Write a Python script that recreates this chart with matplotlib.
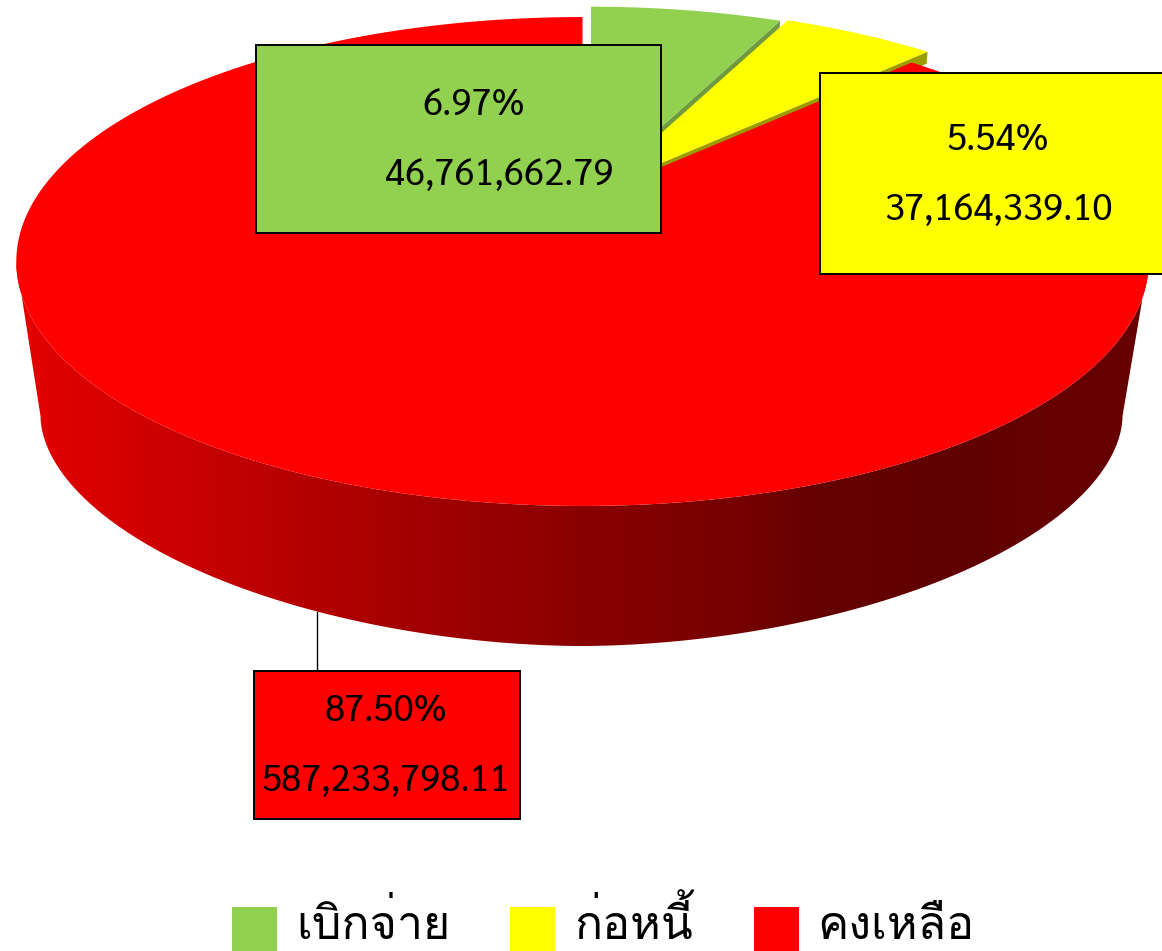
import numpy as np
import matplotlib
matplotlib.use("Agg")
import matplotlib.pyplot as plt
from matplotlib.colors import LinearSegmentedColormap
from matplotlib.patches import Polygon, Rectangle

categories = ["เบิกจ่าย", "ก่อหนี้", "คงเหลือ"]
amounts = [46761662.79, 37164339.10, 587233798.11]
percents = [6.97, 5.54, 87.50]

top_colors = ["#92d050", "#ffff00", "#ff0000"]
wall_colors = ["#6f9a3e", "#9c9c00"]

# ค่าการฉายภาพของวงกลมแบบมีมุมมอง (พิกเซล)
CX = 582.5
K = 0.2516
TOP = dict(a=548.0, b=229.0, y0=200.0)
OFFSETS = [(8.5, -10.3), (16.0, -10.8), (0.0, 0.0)]


def project(theta, a, b, y0, dx=0.0, dy=0.0):
    d = 1 + K * np.cos(theta)
    return CX + dx + a * np.sin(theta) / d, y0 + dy - b * np.cos(theta) / d


def arc(t0, t1, shape, dx=0.0, dy=0.0, n=300):
    x, y = project(np.linspace(t0, t1, n), dx=dx, dy=dy, **shape)
    return np.column_stack([x, y])


def bottom_edge(n=300):
    # ขอบล่างแบนกว่าวงรีเล็กน้อย เหมือนรูปหลายเหลี่ยมของต้นฉบับ
    t = np.linspace(0, np.pi, n)
    p = 2 / 1.87
    x = 581.5 + 541 * np.sign(np.cos(t)) * np.abs(np.cos(t)) ** p
    y = 416 + 230 * np.sin(t) ** p
    return np.column_stack([x, y])


fig = plt.figure(figsize=(11.62, 9.51), dpi=100)
ax = fig.add_axes([0, 0, 1, 1])

# ผนังด้านข้างของวงกลมไล่เฉดตามแกน x
t_side = np.arccos(-K)
upper = arc(2 * np.pi - t_side, t_side, TOP)
side_path = Polygon(np.vstack([bottom_edge(), upper]), closed=True, transform=ax.transData,
                    facecolor="none", edgecolor="none")
ax.add_patch(side_path)
stops = [(0.0, 228), (0.117, 208), (0.268, 178), (0.379, 158), (0.496, 138),
         (0.64, 118), (0.712, 100), (0.836, 97), (1.0, 104)]
cmap = LinearSegmentedColormap.from_list("side", [(p, (v / 255, 0, 0)) for p, v in stops])
grad = np.linspace(0, 1, 1162).reshape(1, -1)
im = ax.imshow(grad, cmap=cmap, extent=(15, 1150, 660, 250), aspect="auto", zorder=1)
im.set_clip_path(side_path)

# มุมของแต่ละชิ้นคำนวณจากจำนวนเงิน เริ่มที่ด้านบน ตามเข็มนาฬิกา
edges = np.concatenate([[0], np.cumsum(amounts)]) / sum(amounts) * 2 * np.pi

# ผนังตัดของชิ้นเขียวและเหลือง
for i in range(2):
    dx, dy = OFFSETS[i]
    end_x, end_y = project(edges[i + 1], dx=dx, dy=dy, **TOP)
    apex_x, apex_y = CX + dx, TOP["y0"] + dy
    wall = [(apex_x, apex_y), (end_x, end_y), (end_x - 1, end_y + 12), (apex_x, apex_y + 12)]
    ax.add_patch(Polygon(wall, closed=True, facecolor=wall_colors[i], edgecolor="none",
                         zorder=2 + 2 * (1 - i)))

# ผิวด้านบน: แดงก่อน เหลือง แล้วเขียว
z_top = {2: 3, 1: 5, 0: 5}
for i in [2, 1, 0]:
    dx, dy = OFFSETS[i]
    pts = arc(edges[i], edges[i + 1], TOP, dx, dy)
    pts = np.vstack([pts, [CX + dx, TOP["y0"] + dy]])
    ax.add_patch(Polygon(pts, closed=True, facecolor=top_colors[i], edgecolor="none",
                         zorder=z_top[i]))

# กล่องป้ายข้อมูล (กล่องเหลืองล้นขอบขวาของภาพ)
boxes = [(256, 45, 405, 188), (820, 73, 360, 200.5), (254, 671, 266, 148)]
pct_pos = [(474, 106), (998, 140), (386, 711)]
amt_pos = [(499.5, 175), (998, 210), (386, 781)]
num_font = ["Sarabun", "DejaVu Sans"]
for i in range(3):
    x, y, w, h = boxes[i]
    ax.add_patch(Rectangle((x, y), w, h, facecolor=top_colors[i], edgecolor="black",
                           linewidth=1.4, zorder=7))
    ax.text(*pct_pos[i], f"{percents[i]:.2f}%", ha="center", va="center", fontsize=26.3,
            family=num_font, color="black", zorder=8)
    ax.text(*amt_pos[i], f"{amounts[i]:,.2f}", ha="center", va="center", fontsize=26.3,
            family=num_font, color="black", zorder=8)

# เส้นโยงป้ายของชิ้นสีแดง
ax.plot([317, 317], [612, 671], color="black", linewidth=1.0, zorder=6)

# คำอธิบายสัญลักษณ์
legend_swatch = [232, 510, 754]
legend_text = [296, 574, 817]
for i in range(3):
    ax.add_patch(Rectangle((legend_swatch[i], 907), 45, 44, facecolor=top_colors[i],
                           edgecolor="none", zorder=2))
    ax.text(legend_text[i], 939, categories[i], ha="left", va="baseline", fontsize=33.5,
            family=["Loma", "DejaVu Sans"], color="black", zorder=8)

ax.set_xlim(0, 1162)
ax.set_ylim(951, 0)
ax.axis("off")
fig.savefig("out.png", dpi=100)
